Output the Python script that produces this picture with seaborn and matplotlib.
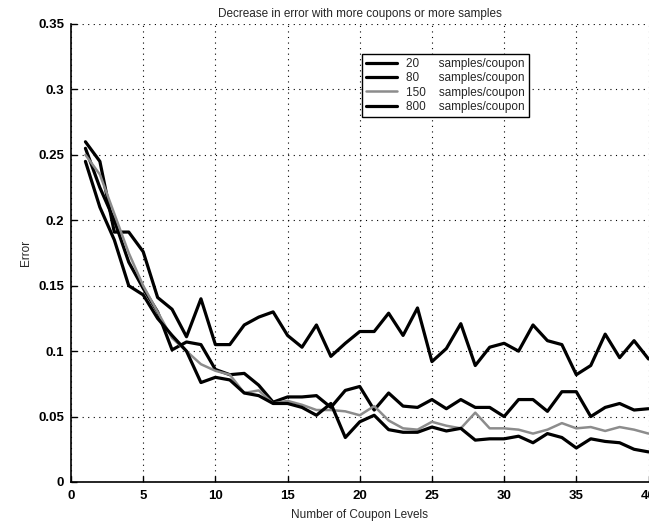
import matplotlib
matplotlib.use("Agg")
import matplotlib.pyplot as plt
import seaborn as sns
import pandas as pd

coupon_levels = list(range(1, 41))
err_20 = [0.26, 0.245, 0.191, 0.191, 0.176, 0.141, 0.132, 0.111, 0.14, 0.105,
          0.105, 0.12, 0.126, 0.13, 0.112, 0.103, 0.12, 0.096, 0.106, 0.115,
          0.115, 0.129, 0.112, 0.133, 0.092, 0.102, 0.121, 0.089, 0.103, 0.106,
          0.1, 0.12, 0.108, 0.105, 0.082, 0.089, 0.113, 0.095, 0.108, 0.094]
err_80 = [0.255, 0.225, 0.2, 0.168, 0.148, 0.13, 0.101, 0.107, 0.105, 0.086,
          0.082, 0.083, 0.074, 0.061, 0.065, 0.065, 0.066, 0.057, 0.07, 0.073,
          0.055, 0.068, 0.058, 0.057, 0.063, 0.056, 0.063, 0.057, 0.057, 0.05,
          0.063, 0.063, 0.054, 0.069, 0.069, 0.05, 0.057, 0.06, 0.055, 0.056]
err_150 = [0.25, 0.235, 0.205, 0.175, 0.15, 0.13, 0.11, 0.1, 0.09, 0.085,
           0.082, 0.068, 0.07, 0.06, 0.062, 0.059, 0.055, 0.055, 0.054, 0.051,
           0.058, 0.047, 0.041, 0.04, 0.046, 0.043, 0.041, 0.053, 0.041, 0.041,
           0.04, 0.037, 0.04, 0.045, 0.041, 0.042, 0.039, 0.042, 0.04, 0.037]
err_800 = [0.245, 0.21, 0.185, 0.15, 0.143, 0.125, 0.112, 0.1, 0.076, 0.08,
           0.078, 0.068, 0.066, 0.06, 0.06, 0.057, 0.051, 0.06, 0.034, 0.046,
           0.051, 0.04, 0.038, 0.038, 0.042, 0.039, 0.041, 0.032, 0.033, 0.033,
           0.035, 0.03, 0.037, 0.034, 0.026, 0.033, 0.031, 0.03, 0.025, 0.023]

series_labels = ["20      samples/coupon", "80      samples/coupon",
                 "150    samples/coupon", "800    samples/coupon"]
x_ticks = [0, 5, 10, 15, 20, 25, 30, 35, 40]
y_ticks = [0, 0.05, 0.1, 0.15, 0.2, 0.25, 0.3, 0.35]
y_tick_labels = ["0", "0.05", "0.1", "0.15", "0.2", "0.25", "0.3", "0.35"]

sns.set_theme(style="white")
plt.rcParams['font.family'] = ['Liberation Sans', 'DejaVu Sans']

fig = plt.figure(figsize=(6.49, 5.27), dpi=100)
ax = fig.add_axes([71 / 649, 1 - 482 / 527, 577.5 / 649, 458 / 527])

colors = ["black", "black", "#8c8c8c", "black"]
widths = [2.3, 2.3, 1.8, 2.3]
for vals, lab, c, w in zip([err_20, err_80, err_150, err_800], series_labels, colors, widths):
    df = pd.DataFrame({"x": coupon_levels, "y": vals})
    sns.lineplot(data=df, x="x", y="y", color=c, linewidth=w, label=lab, ax=ax)

ax.set_xlim(0, 40)
ax.set_ylim(0, 0.35)
ax.set_xticks(x_ticks)
ax.set_xticklabels([str(t) for t in x_ticks])
ax.set_yticks(y_ticks)
ax.set_yticklabels(y_tick_labels)
for lbl in ax.get_xticklabels() + ax.get_yticklabels():
    lbl.set_fontweight("bold")
    lbl.set_fontsize(9.5)
ax.tick_params(direction="in", length=4, width=1, color="black", labelcolor="black",
               bottom=True, left=True)
ax.tick_params(axis="x", pad=6)
ax.tick_params(axis="y", pad=5)
ax.grid(True, linestyle=(0, (1, 4)), color="black", linewidth=0.8)
for s in ["top", "right"]:
    ax.spines[s].set_visible(False)
for s in ["left", "bottom"]:
    ax.spines[s].set_color("black")
    ax.spines[s].set_linewidth(1.2)

ax.set_title("Decrease in error with more coupons or more samples", fontsize=8.5, pad=5)
ax.set_xlabel("Number of Coupon Levels", fontsize=8.5, labelpad=5)
ax.set_ylabel("Error", fontsize=8.5, labelpad=4)

leg = ax.legend(loc="upper right", bbox_to_anchor=(0.793, 0.935), fontsize=8.5,
                frameon=True, fancybox=False, edgecolor="black", framealpha=1,
                handlelength=2.6, borderpad=0.35, labelspacing=0.2, handletextpad=0.8,
                borderaxespad=0)
leg.get_frame().set_linewidth(1.0)

fig.savefig("out.png", dpi=100)
